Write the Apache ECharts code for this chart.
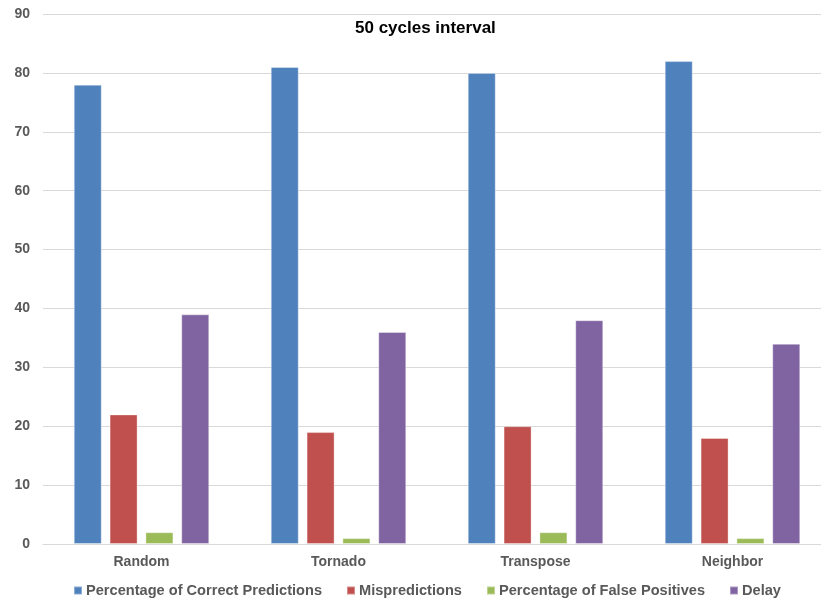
<!DOCTYPE html>
<html>
<head>
<meta charset="utf-8">
<script src="https://cdn.jsdelivr.net/npm/echarts@6/dist/echarts.min.js"></script>
<style>
  html, body { margin: 0; padding: 0; background: #ffffff; overflow: hidden; }
  /* the plot runs slightly past the right edge of the page */
  #chart { width: 831px; height: 603px; }
</style>
</head>
<body>
<div id="chart"></div>
<script>
// Traffic patterns and the measured results for each
const categories = ['Random', 'Tornado', 'Transpose', 'Neighbor'];
const correctPredictions = [78, 81, 80, 82];
const mispredictions = [22, 19, 20, 18];
const falsePositives = [2, 1, 2, 1];
const delay = [39, 36, 38, 34];
const yTicks = { min: 0, max: 90, interval: 10 };

const seriesDefs = [
  { name: 'Percentage of Correct Predictions', data: correctPredictions, color: '#4F81BD' },
  { name: 'Mispredictions', data: mispredictions, color: '#C0504D' },
  { name: 'Percentage of False Positives', data: falsePositives, color: '#9BBB59' },
  { name: 'Delay', data: delay, color: '#8064A2' }
];

const chart = echarts.init(document.getElementById('chart'), null, { renderer: 'canvas' });
const fontFamily = 'Liberation Sans, Arial, sans-serif';
const labelFont = { fontFamily: fontFamily, fontWeight: 'bold', fontSize: 14, color: '#595959' };

chart.setOption({
  animation: false,
  backgroundColor: '#ffffff',
  title: {
    text: '50 cycles interval',
    left: 350,
    top: 15,
    textStyle: { fontFamily: fontFamily, fontWeight: 'bold', fontSize: 17, color: '#000000' }
  },
  legend: {
    top: 578,
    left: 68,
    itemWidth: 8,
    itemHeight: 8,
    itemGap: 24,
    icon: 'rect',
    textStyle: Object.assign({}, labelFont, { fontSize: 14.6, padding: [0, 0, 0, -1] }),
    data: seriesDefs.map(s => s.name)
  },
  grid: { left: 43, right: 0, top: 14, bottom: 59, containLabel: false },
  xAxis: {
    type: 'category',
    data: categories,
    axisLine: { lineStyle: { color: '#d9d9d9', width: 1 } },
    axisTick: { show: false },
    axisLabel: Object.assign({ margin: 11 }, labelFont)
  },
  yAxis: {
    type: 'value',
    min: yTicks.min,
    max: yTicks.max,
    interval: yTicks.interval,
    axisLine: { show: false },
    axisTick: { show: false },
    splitLine: { lineStyle: { color: '#d9d9d9', width: 1 } },
    axisLabel: Object.assign({ margin: 13 }, labelFont)
  },
  series: seriesDefs.map(s => ({
    name: s.name,
    type: 'bar',
    data: s.data,
    barWidth: 28,
    barGap: '28%',
    itemStyle: { color: s.color, borderColor: 'rgba(255,255,255,0.35)', borderWidth: 1 }
  }))
});
</script>
</body>
</html>
